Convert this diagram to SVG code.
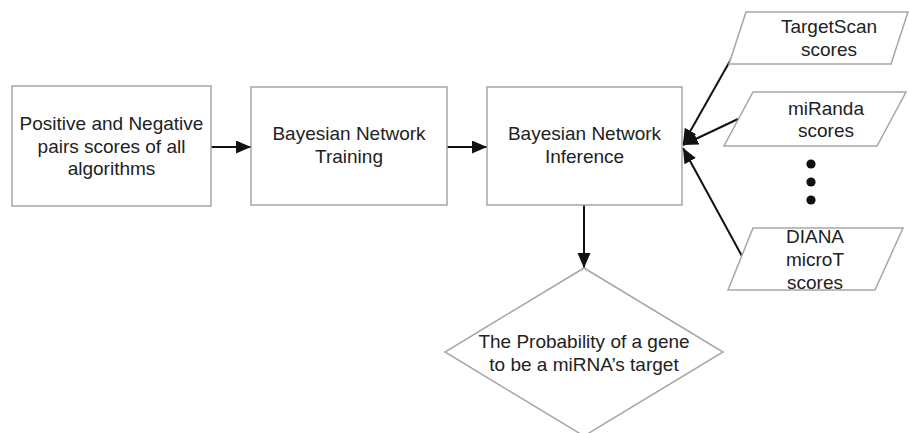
<svg xmlns="http://www.w3.org/2000/svg" width="909" height="433" viewBox="0 0 909 433">
<defs>
<style>
.shape{fill:#fff;stroke:#a6a6a6;stroke-width:1.5}
.t{font-family:"Liberation Sans",Arial,sans-serif;font-size:19px;fill:#222;text-anchor:middle}
.c{stroke:#111;stroke-width:2;fill:none;marker-end:url(#ah)}
</style>
<marker id="ah" markerUnits="userSpaceOnUse" markerWidth="16" markerHeight="14" refX="15" refY="6.5" orient="auto">
<path d="M0,0 L15,6.5 L0,13 z" fill="#111"/>
</marker>
</defs>
<rect width="909" height="433" fill="#fff"/>
<g id="connectors">
<line class="c" x1="211" y1="147" x2="251" y2="147"/>
<line class="c" x1="447" y1="147" x2="487" y2="147"/>
<line class="c" x1="584" y1="205" x2="584" y2="268"/>
<line class="c" x1="743" y1="38" x2="683" y2="144"/>
<line class="c" x1="738" y1="119" x2="683" y2="145"/>
<line class="c" x1="743" y1="258" x2="683" y2="148"/>
</g>
<g id="n1">
<rect class="shape" x="12" y="86" width="199" height="120"/>
<text class="t" x="111.5" y="130">Positive and Negative</text>
<text class="t" x="111.5" y="152.5">pairs scores of all</text>
<text class="t" x="111.5" y="175">algorithms</text>
</g>
<g id="n2">
<rect class="shape" x="251" y="87" width="196" height="118"/>
<text class="t" x="349" y="140">Bayesian Network</text>
<text class="t" x="349" y="163">Training</text>
</g>
<g id="n3">
<rect class="shape" x="487" y="87" width="195" height="118"/>
<text class="t" x="584.5" y="140">Bayesian Network</text>
<text class="t" x="584.5" y="163">Inference</text>
</g>
<g id="n4">
<polygon class="shape" points="584,268 723,352 584,436 445,352"/>
<text class="t" x="584" y="348">The Probability of a gene</text>
<text class="t" x="584" y="371">to be a miRNA’s target</text>
</g>
<g id="n5">
<polygon class="shape" points="746,12 908,12 891,64 729,64"/>
<text class="t" x="829" y="33">TargetScan</text>
<text class="t" x="829" y="56">scores</text>
</g>
<g id="n6">
<polygon class="shape" points="753,92 906,92 877,146 724,146"/>
<text class="t" x="826" y="115">miRanda</text>
<text class="t" x="826" y="137">scores</text>
</g>
<g id="dots">
<circle cx="811" cy="164" r="4.6" fill="#111"/>
<circle cx="811" cy="182" r="4.6" fill="#111"/>
<circle cx="811" cy="200" r="4.6" fill="#111"/>
</g>
<g id="n7">
<polygon class="shape" points="753,228 903,228 875,290 728,290"/>
<text class="t" x="815" y="243">DIANA</text>
<text class="t" x="815" y="266">microT</text>
<text class="t" x="815" y="289">scores</text>
</g>
</svg>
